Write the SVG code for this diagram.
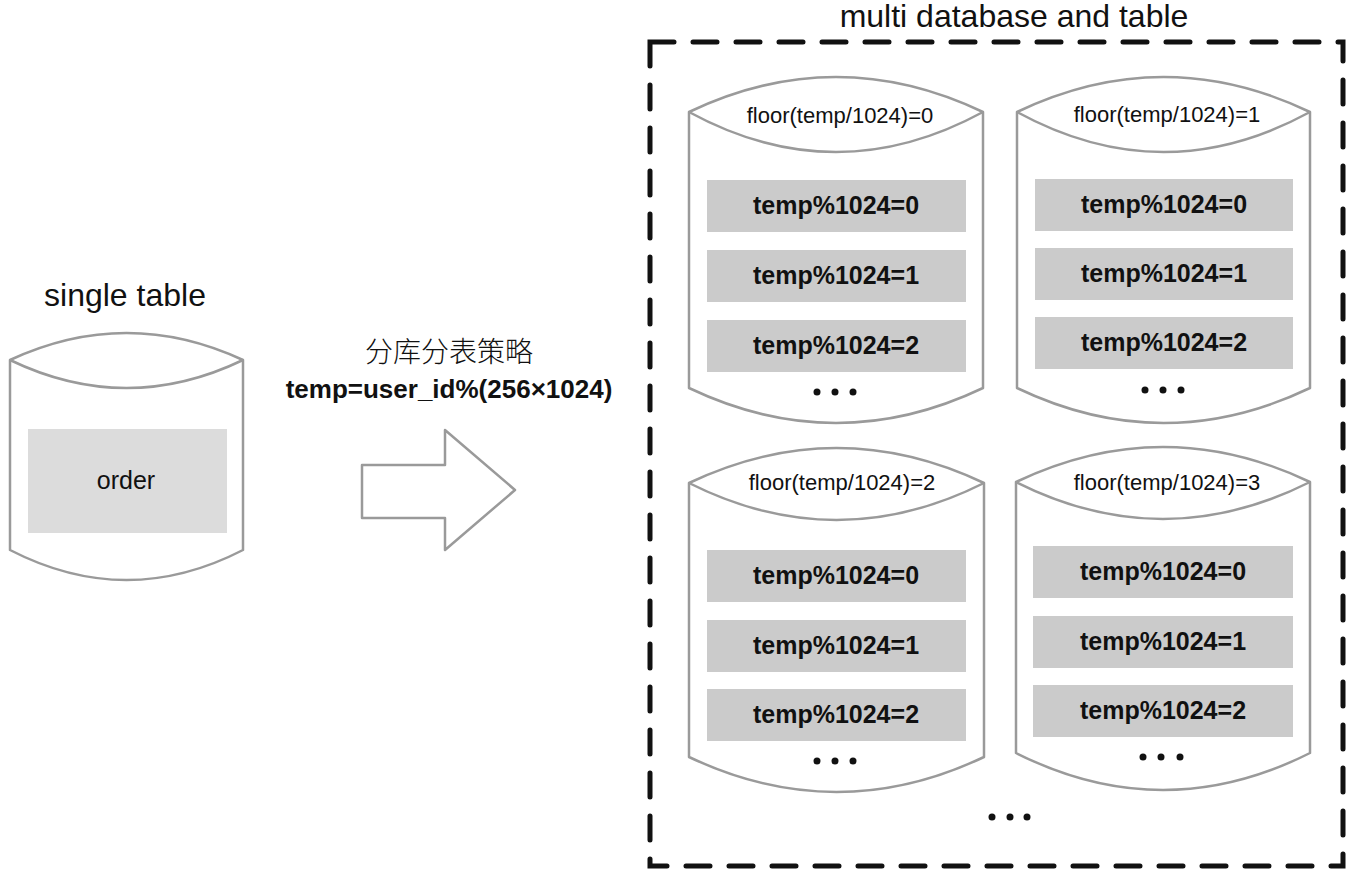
<svg xmlns="http://www.w3.org/2000/svg" width="1360" height="874" viewBox="0 0 1360 874">
<style>
  .cyl { fill: #ffffff; stroke: #9a9a9a; stroke-width: 2.5; stroke-linejoin: round; }
  .row { fill: #cbcbcb; }
  .row0 { fill: #dcdcdc; }
  .lbl { font-family: "Liberation Sans", Arial, sans-serif; fill: #111; text-anchor: middle; }
  .rowt { font-size: 25px; font-weight: bold; }
  .floor { font-size: 22px; }
  .title { font-size: 32px; }
  .dot { fill: #111; }
  .box { fill: none; stroke: #111; stroke-width: 5; stroke-dasharray: 24 19; stroke-linecap: round; }
</style>
<rect x="0" y="0" width="1360" height="874" fill="#ffffff"/>

<g id="title-multi">
  <text class="lbl title" x="1014" y="27">multi database and table</text>
</g>

<g id="title-single">
  <text class="lbl title" x="125" y="306">single table</text>
</g>

<g id="single-table">
  <path class="cyl" d="M10,360 Q126.5,306 243,360 L243,550 Q126.5,610 10,550 Z"/>
  <path class="cyl" d="M10,360 Q126.5,416 243,360" fill="none"/>
  <rect class="row0" x="28" y="429" width="199" height="104"/>
  <text class="lbl" x="126" y="489" font-size="25">order</text>
</g>

<g id="strategy-label">
  <text class="lbl" x="449" y="362" style="font-family:'Noto Sans CJK SC','Noto Sans CJK JP',sans-serif;font-weight:300;font-size:28px">分库分表策略</text>
  <text class="lbl" x="449" y="398" font-size="26" font-weight="bold">temp=user_id%(256×1024)</text>
</g>

<g id="connectors">
  <path d="M362,465 L445,465 L445,430 L515,490 L445,550 L445,518 L362,518 Z" fill="#ffffff" stroke="#9a9a9a" stroke-width="2.5" stroke-linejoin="round"/>
</g>

<g id="multi-box">
  <rect class="box" x="650" y="42" width="693" height="824"/>
</g>

<g id="db0">
  <path class="cyl" d="M689,112 Q836,42 983,112 L983,388 Q836,458 689,388 Z"/>
  <path class="cyl" d="M689,112 Q836,192 983,112" fill="none"/>
  <text class="lbl floor" x="840" y="123">floor(temp/1024)=0</text>
  <rect class="row" x="707" y="180" width="259" height="52"/>
  <rect class="row" x="707" y="250" width="259" height="52"/>
  <rect class="row" x="707" y="320" width="259" height="52"/>
  <text class="lbl rowt" x="836" y="214">temp%1024=0</text>
  <text class="lbl rowt" x="836" y="284">temp%1024=1</text>
  <text class="lbl rowt" x="836" y="354">temp%1024=2</text>
  <circle class="dot" cx="817" cy="392" r="3.5"/>
  <circle class="dot" cx="835" cy="392" r="3.5"/>
  <circle class="dot" cx="853" cy="392" r="3.5"/>
</g>

<g id="db1">
  <path class="cyl" d="M1017,112 Q1163.5,42 1310,112 L1310,388 Q1163.5,458 1017,388 Z"/>
  <path class="cyl" d="M1017,112 Q1163.5,192 1310,112" fill="none"/>
  <text class="lbl floor" x="1167" y="122">floor(temp/1024)=1</text>
  <rect class="row" x="1035" y="179" width="258" height="52"/>
  <rect class="row" x="1035" y="248" width="258" height="52"/>
  <rect class="row" x="1035" y="317" width="258" height="52"/>
  <text class="lbl rowt" x="1164" y="213">temp%1024=0</text>
  <text class="lbl rowt" x="1164" y="282">temp%1024=1</text>
  <text class="lbl rowt" x="1164" y="351">temp%1024=2</text>
  <circle class="dot" cx="1145" cy="390" r="3.5"/>
  <circle class="dot" cx="1163" cy="390" r="3.5"/>
  <circle class="dot" cx="1181" cy="390" r="3.5"/>
</g>

<g id="db2">
  <path class="cyl" d="M689,483 Q836.5,413 984,483 L984,757 Q836.5,827 689,757 Z"/>
  <path class="cyl" d="M689,483 Q836.5,557 984,483" fill="none"/>
  <text class="lbl floor" x="842" y="490">floor(temp/1024)=2</text>
  <rect class="row" x="707" y="550" width="259" height="52"/>
  <rect class="row" x="707" y="620" width="259" height="52"/>
  <rect class="row" x="707" y="689" width="259" height="52"/>
  <text class="lbl rowt" x="836" y="584">temp%1024=0</text>
  <text class="lbl rowt" x="836" y="654">temp%1024=1</text>
  <text class="lbl rowt" x="836" y="723">temp%1024=2</text>
  <circle class="dot" cx="817" cy="761" r="3.5"/>
  <circle class="dot" cx="835" cy="761" r="3.5"/>
  <circle class="dot" cx="853" cy="761" r="3.5"/>
</g>

<g id="db3">
  <path class="cyl" d="M1016,482 Q1163,412 1310,482 L1310,753 Q1163,827 1016,753 Z"/>
  <path class="cyl" d="M1016,482 Q1163,556 1310,482" fill="none"/>
  <text class="lbl floor" x="1167" y="490">floor(temp/1024)=3</text>
  <rect class="row" x="1033" y="546" width="260" height="52"/>
  <rect class="row" x="1033" y="616" width="260" height="52"/>
  <rect class="row" x="1033" y="685" width="260" height="52"/>
  <text class="lbl rowt" x="1163" y="580">temp%1024=0</text>
  <text class="lbl rowt" x="1163" y="650">temp%1024=1</text>
  <text class="lbl rowt" x="1163" y="719">temp%1024=2</text>
  <circle class="dot" cx="1143" cy="757" r="3.5"/>
  <circle class="dot" cx="1161" cy="757" r="3.5"/>
  <circle class="dot" cx="1180" cy="757" r="3.5"/>
</g>

<g id="more-dbs">
  <circle class="dot" cx="992" cy="817" r="3.5"/>
  <circle class="dot" cx="1010" cy="817" r="3.5"/>
  <circle class="dot" cx="1027" cy="817" r="3.5"/>
</g>
</svg>
